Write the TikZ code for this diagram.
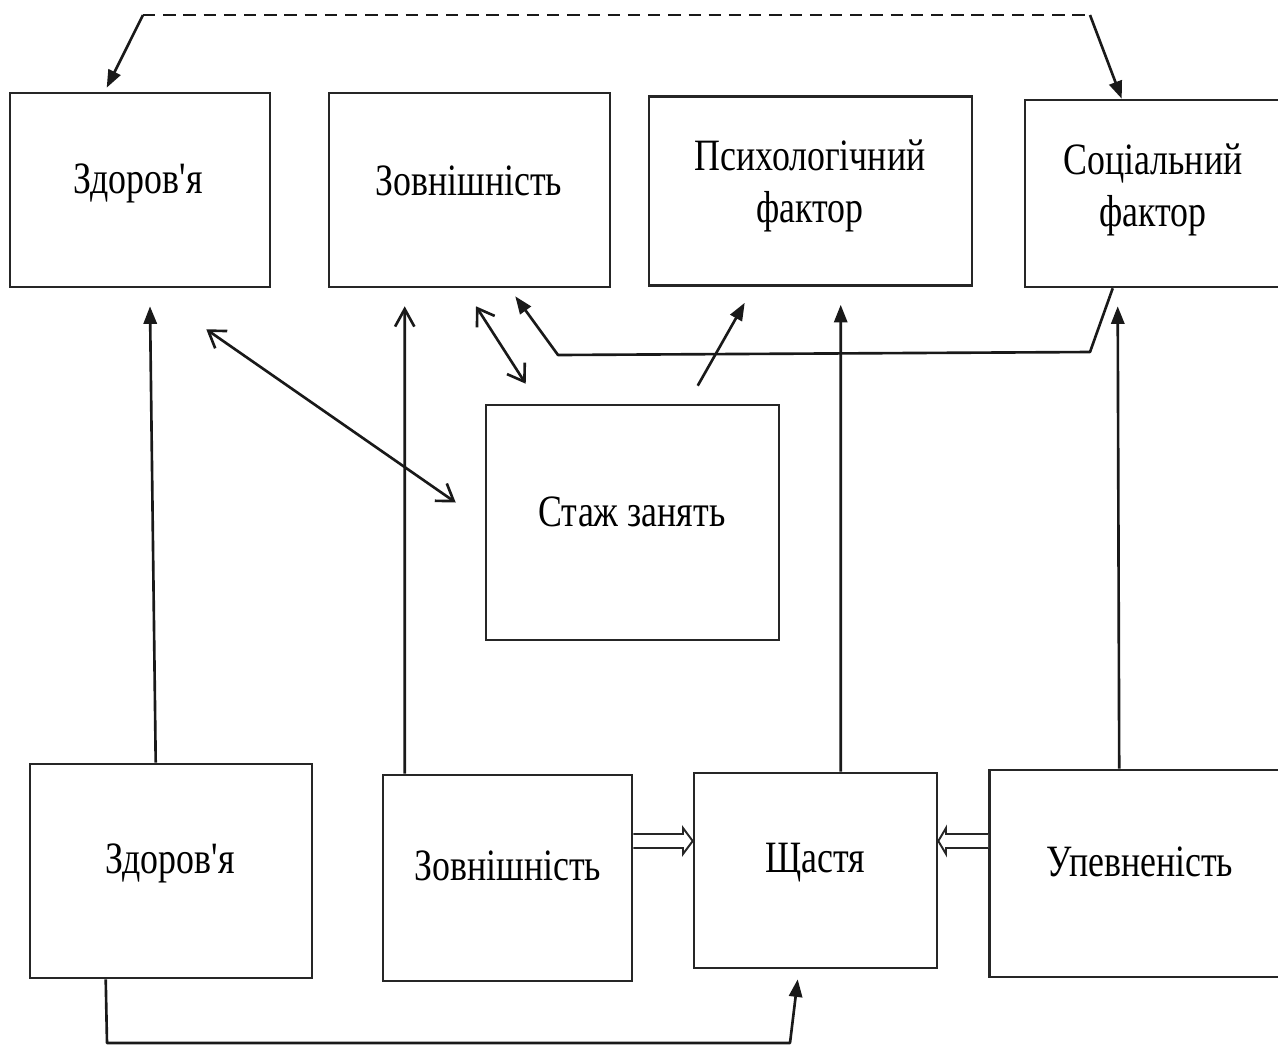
\documentclass[tikz,border=0pt]{standalone}
\usepackage{fontspec}
\newfontfamily\lblfont[FakeStretch=0.8]{Liberation Serif}
\usetikzlibrary{arrows.meta,calc}
\tikzset{
  box/.style={draw=black!85, line width=1.5pt, rectangle, inner sep=0pt},
  lbl/.style={inner sep=0pt, align=center, font=\lblfont\fontsize{25.5}{30}\selectfont},
  conn/.style={line width=1.5pt, draw=black!90},
  arr/.style={conn, -{Triangle[length=10pt,width=7.5pt]}},
  openarr/.style={conn, {Straight Barb[length=9pt,width=12pt]}-{Straight Barb[length=9pt,width=12pt]}},
  openone/.style={conn, -{Straight Barb[length=10pt,width=11pt]}},
  dashline/.style={line width=1.1pt, draw=black!90, dash pattern=on 7pt off 4.5pt},
  hollow/.style={line width=1.1pt, draw=black!85, fill=white, line join=miter}
}
\begin{document}
\begin{tikzpicture}[x=0.02cm, y=-0.02cm]
\useasboundingbox (0,0) rectangle (1278,1046);
% top row
\node[box, minimum width=5.2cm, minimum height=3.88cm] (h1) at (140,190) {};
\node[box, minimum width=5.62cm, minimum height=3.88cm] (a1) at (469.5,190) {};
\node[box, minimum width=6.46cm, minimum height=3.78cm] (p1) at (810.5,191) {};
\node[box, minimum width=5.12cm, minimum height=3.74cm] (s1) at (1153,193.5) {};
% middle
\node[box, minimum width=5.86cm, minimum height=4.7cm] (st) at (632.5,522.5) {};
% bottom row
\node[box, minimum width=5.64cm, minimum height=4.28cm] (h2) at (171,871) {};
\node[box, minimum width=4.98cm, minimum height=4.12cm] (a2) at (507.5,878) {};
\node[box, minimum width=4.86cm, minimum height=3.9cm] (hp) at (815.5,870.5) {};
\node[box, minimum width=6.02cm, minimum height=4.14cm] (u) at (1140,873.5) {};
% labels
\node[lbl] (h1t) at (138,183) {Здоров'я};
\node[lbl] (a1t) at (469,181) {Зовнішність};
\node[lbl] (p1t) at (810,186) {Психологічний\\фактор};
\node[lbl] (s1t) at (1153,190) {Соціальний\\фактор};
\node[lbl] (stt) at (632,512) {Стаж занять};
\node[lbl] (h2t) at (170,863) {Здоров'я};
\node[lbl] (a2t) at (508,866) {Зовнішність};
\node[lbl] (hpt) at (815,863) {Щастя};
\node[lbl] (ut) at (1140,862) {Упевненість};
% dashed top connector
\coordinate (dl) at (143,15);
\coordinate (dr) at (1090,15);
\draw[dashline] (dl) -- (dr);
\draw[arr] (dl) -- ($(h1.north west)+(98,-4)$);
\draw[arr] (dr) -- ($(s1.north west)+(98,0)$);
% vertical arrows from bottom to top
\draw[arr] ($(h2.north west)+(127,0)$) -- ($(h1.south)+(10,18)$);
\draw[openone] ($(a2.north west)+(23,0)$) -- ($(a1.south west)+(77,18)$);
\draw[arr] ($(hp.north west)+(148,0)$) -- ($(p1.south west)+(193,18)$);
\draw[arr] ($(u.north west)+(131,0)$) -- ($(s1.south west)+(94,18)$);
% double arrows with Стаж занять
\draw[openarr] ($(h1.south east)+(-65,41)$) -- ($(st.west)+(-29,-20)$);
\draw[openarr] ($(a1.south)+(6.5,18)$) -- ($(st.north west)+(41,-20)$);
% social -> appearance
\draw[arr, line join=round] ($(s1.south west)+(89,0)$) -- (1090,352) -- (558,355) -- ($(a1.south east)+(-96,8)$);
% Стаж -> psychological
\draw[arr] ($(st.north west)+(213,-18)$) -- ($(p1.south west)+(97,16)$);
% bottom: health -> happiness
\draw[arr, line join=round] ($(h2.south west)+(77,0)$) -- (107,1043) -- (790,1043) -- ($(hp.south west)+(105,10)$);
% hollow arrows into Щастя
\draw[hollow] (a2.east |- 0,834) -- (683,834) -- (683,828) -- (hp.west |- 0,841) -- (683,854) -- (683,848) -- (a2.east |- 0,848);
\draw[hollow] (u.west |- 0,834) -- (946,834) -- (946,828) -- (hp.east |- 0,841) -- (946,854) -- (946,848) -- (u.west |- 0,848);
\end{tikzpicture}
\end{document}
